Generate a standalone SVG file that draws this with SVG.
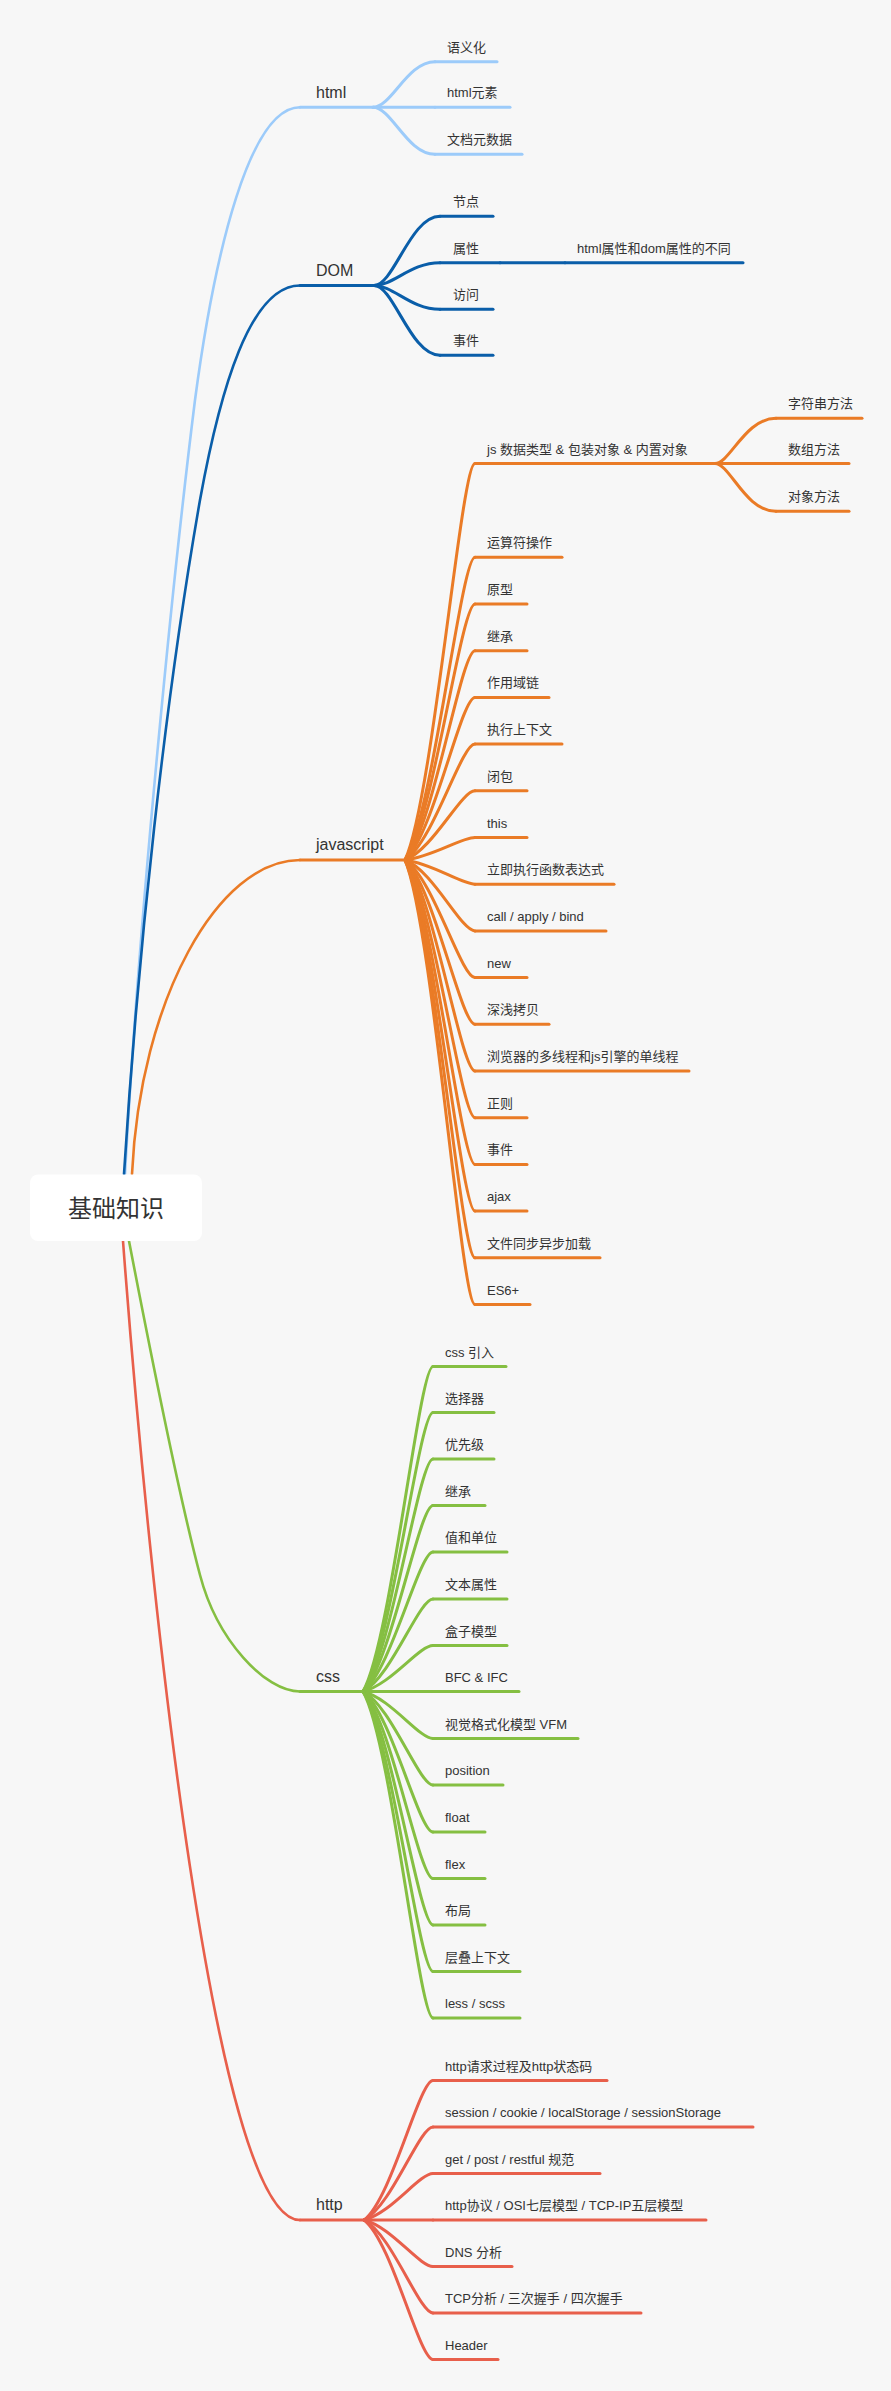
<svg xmlns="http://www.w3.org/2000/svg" width="891" height="2391" viewBox="0 0 891 2391">
<style>
  .bg{fill:#f7f7f7}
  path,line{fill:none;stroke-width:3;stroke-linecap:round}
  .main{stroke-width:2.6}
  .b1{stroke:#9ccbfa}
  .b2{stroke:#0a5ea9}
  .b3{stroke:#ea7b26}
  .b4{stroke:#85bf42}
  .b5{stroke:#e85f4b}
  text{font-family:"Liberation Sans","Noto Sans CJK SC",sans-serif;fill:#333}
  .t1{font-size:16px}
  .t2{font-size:13px}
  .root{font-size:24px;text-anchor:middle}
</style>
<rect class="bg" x="0" y="0" width="891" height="2391"/>

<g id="connectors">
  <!-- root to main branches -->
  <path class="b1 main" d="M125,1174 C140,900 175,560 195,400 C215,250 250,107.3 300,107.3"/>
  <path class="b2 main" d="M124,1174 C138,950 165,700 200,500 C220,390 250,285.5 300,285.5"/>
  <path class="b3 main" d="M132,1174 C140,1000 218,860 300,860"/>
  <path class="b4 main" d="M129,1241 C150,1350 180,1500 200,1575 C217,1640 265,1691.5 300,1691.5"/>
  <path class="b5 main" d="M123,1241 C150,1600 215,2220 300,2220"/>
  <!-- html children -->
  <path class="b1" d="M373,107.3 C391.6,107.3 407.1,61.7 435,61.7"/>
  <path class="b1" d="M373,107.3 L435,107.3"/>
  <path class="b1" d="M373,107.3 C391.6,107.3 407.1,154.3 435,154.3"/>
  <!-- DOM children -->
  <path class="b2" d="M374,285.5 C393.8,285.5 410.3,216.3 440,216.3"/>
  <path class="b2" d="M374,285.5 C393.8,285.5 410.3,262.7 440,262.7"/>
  <path class="b2" d="M374,285.5 C393.8,285.5 410.3,309.3 440,309.3"/>
  <path class="b2" d="M374,285.5 C393.8,285.5 410.3,355.3 440,355.3"/>
  <path class="b2" d="M500,262.7 L565,262.7"/>
  <!-- javascript children -->
  <path class="b3" d="M405,860 C433,800.5 461,463.5 475,463.5"/>
  <path class="b3" d="M405,860 C433,814.6 461,557.3 475,557.3"/>
  <path class="b3" d="M405,860 C433,821.6 461,604 475,604"/>
  <path class="b3" d="M405,860 C433,828.6 461,650.7 475,650.7"/>
  <path class="b3" d="M405,860 C433,835.6 461,697.4 475,697.4"/>
  <path class="b3" d="M405,860 C433,842.6 461,744.1 475,744.1"/>
  <path class="b3" d="M405,860 C433,849.6 461,790.8 475,790.8"/>
  <path class="b3" d="M405,860 C433,856.6 461,837.5 475,837.5"/>
  <path class="b3" d="M405,860 C433,863.6 461,884.2 475,884.2"/>
  <path class="b3" d="M405,860 C433,870.6 461,930.9 475,930.9"/>
  <path class="b3" d="M405,860 C433,877.6 461,977.6 475,977.6"/>
  <path class="b3" d="M405,860 C433,884.6 461,1024.3 475,1024.3"/>
  <path class="b3" d="M405,860 C433,891.7 461,1071 475,1071"/>
  <path class="b3" d="M405,860 C433,898.7 461,1117.7 475,1117.7"/>
  <path class="b3" d="M405,860 C433,905.7 461,1164.4 475,1164.4"/>
  <path class="b3" d="M405,860 C433,912.7 461,1211.1 475,1211.1"/>
  <path class="b3" d="M405,860 C433,919.7 461,1257.8 475,1257.8"/>
  <path class="b3" d="M405,860 C433,926.7 461,1304.5 475,1304.5"/>
  <!-- js data type children -->
  <path class="b3" d="M715,463.5 C730,463.5 745,418.3 776,418.3"/>
  <path class="b3" d="M715,463.5 L776,463.5"/>
  <path class="b3" d="M715,463.5 C730,463.5 745,511.3 776,511.3"/>
  <!-- css children -->
  <path class="b4" d="M363,1691.5 C391,1642.8 419,1366.5 433,1366.5"/>
  <path class="b4" d="M363,1691.5 C391,1649.7 419,1412.5 433,1412.5"/>
  <path class="b4" d="M363,1691.5 C391,1656.6 419,1459 433,1459"/>
  <path class="b4" d="M363,1691.5 C391,1663.6 419,1505.5 433,1505.5"/>
  <path class="b4" d="M363,1691.5 C391,1670.6 419,1552 433,1552"/>
  <path class="b4" d="M363,1691.5 C391,1677.6 419,1599 433,1599"/>
  <path class="b4" d="M363,1691.5 C391,1684.6 419,1645.5 433,1645.5"/>
  <path class="b4" d="M363,1691.5 L433,1691.5"/>
  <path class="b4" d="M363,1691.5 C391,1698.6 419,1738.5 433,1738.5"/>
  <path class="b4" d="M363,1691.5 C391,1705.5 419,1785 433,1785"/>
  <path class="b4" d="M363,1691.5 C391,1712.6 419,1832 433,1832"/>
  <path class="b4" d="M363,1691.5 C391,1719.6 419,1878.5 433,1878.5"/>
  <path class="b4" d="M363,1691.5 C391,1726.5 419,1925 433,1925"/>
  <path class="b4" d="M363,1691.5 C391,1733.5 419,1971.5 433,1971.5"/>
  <path class="b4" d="M363,1691.5 C391,1740.5 419,2018 433,2018"/>
  <!-- http children -->
  <path class="b5" d="M364,2220 C391.6,2199.1 419.2,2080.5 433,2080.5"/>
  <path class="b5" d="M364,2220 C391.6,2206 419.2,2127 433,2127"/>
  <path class="b5" d="M364,2220 C391.6,2213 419.2,2173.5 433,2173.5"/>
  <path class="b5" d="M364,2220 L433,2220"/>
  <path class="b5" d="M364,2220 C391.6,2227 419.2,2266.5 433,2266.5"/>
  <path class="b5" d="M364,2220 C391.6,2234 419.2,2313 433,2313"/>
  <path class="b5" d="M364,2220 C391.6,2240.9 419.2,2359.5 433,2359.5"/>
</g>

<g id="root">
  <rect x="30" y="1174.5" width="172" height="66.5" rx="8" fill="#ffffff"/>
  <text class="root" x="116" y="1216.5">基础知识</text>
</g>

<!-- html -->
<g id="n-html"><line class="b1" x1="300" y1="107.3" x2="373" y2="107.3"/><text class="t1" x="316" y="97.5">html</text></g>
<g id="n-html-1"><line class="b1" x1="435" y1="61.7" x2="497" y2="61.7"/><text class="t2" x="447" y="51.7">语义化</text></g>
<g id="n-html-2"><line class="b1" x1="435" y1="107.3" x2="510" y2="107.3"/><text class="t2" x="447" y="97.3">html元素</text></g>
<g id="n-html-3"><line class="b1" x1="435" y1="154.3" x2="522" y2="154.3"/><text class="t2" x="447" y="144.3">文档元数据</text></g>

<!-- DOM -->
<g id="n-dom"><line class="b2" x1="300" y1="285.5" x2="374" y2="285.5"/><text class="t1" x="316" y="275.5">DOM</text></g>
<g id="n-dom-1"><line class="b2" x1="440" y1="216.3" x2="493" y2="216.3"/><text class="t2" x="453" y="206.3">节点</text></g>
<g id="n-dom-2"><line class="b2" x1="440" y1="262.7" x2="500" y2="262.7"/><text class="t2" x="453" y="252.7">属性</text></g>
<g id="n-dom-2-1"><line class="b2" x1="565" y1="262.7" x2="743" y2="262.7"/><text class="t2" x="577" y="252.7">html属性和dom属性的不同</text></g>
<g id="n-dom-3"><line class="b2" x1="440" y1="309.3" x2="493" y2="309.3"/><text class="t2" x="453" y="299.3">访问</text></g>
<g id="n-dom-4"><line class="b2" x1="440" y1="355.3" x2="493" y2="355.3"/><text class="t2" x="453" y="345.3">事件</text></g>

<!-- javascript -->
<g id="n-js"><line class="b3" x1="300" y1="860" x2="405" y2="860"/><text class="t1" x="316" y="850">javascript</text></g>
<g id="n-js-1"><line class="b3" x1="475" y1="463.5" x2="715" y2="463.5"/><text class="t2" x="487" y="453.5">js 数据类型 &amp; 包装对象 &amp; 内置对象</text></g>
<g id="n-js-1-1"><line class="b3" x1="776" y1="418.3" x2="862" y2="418.3"/><text class="t2" x="788" y="408.3">字符串方法</text></g>
<g id="n-js-1-2"><line class="b3" x1="776" y1="463.5" x2="849" y2="463.5"/><text class="t2" x="788" y="453.5">数组方法</text></g>
<g id="n-js-1-3"><line class="b3" x1="776" y1="511.3" x2="849" y2="511.3"/><text class="t2" x="788" y="501.3">对象方法</text></g>
<g id="n-js-2"><line class="b3" x1="475" y1="557.3" x2="562" y2="557.3"/><text class="t2" x="487" y="547.3">运算符操作</text></g>
<g id="n-js-3"><line class="b3" x1="475" y1="604" x2="527" y2="604"/><text class="t2" x="487" y="594">原型</text></g>
<g id="n-js-4"><line class="b3" x1="475" y1="650.7" x2="527" y2="650.7"/><text class="t2" x="487" y="640.7">继承</text></g>
<g id="n-js-5"><line class="b3" x1="475" y1="697.4" x2="549" y2="697.4"/><text class="t2" x="487" y="687.4">作用域链</text></g>
<g id="n-js-6"><line class="b3" x1="475" y1="744.1" x2="562" y2="744.1"/><text class="t2" x="487" y="734.1">执行上下文</text></g>
<g id="n-js-7"><line class="b3" x1="475" y1="790.8" x2="527" y2="790.8"/><text class="t2" x="487" y="780.8">闭包</text></g>
<g id="n-js-8"><line class="b3" x1="475" y1="837.5" x2="527" y2="837.5"/><text class="t2" x="487" y="827.5">this</text></g>
<g id="n-js-9"><line class="b3" x1="475" y1="884.2" x2="614" y2="884.2"/><text class="t2" x="487" y="874.2">立即执行函数表达式</text></g>
<g id="n-js-10"><line class="b3" x1="475" y1="930.9" x2="606" y2="930.9"/><text class="t2" x="487" y="920.9">call / apply / bind</text></g>
<g id="n-js-11"><line class="b3" x1="475" y1="977.6" x2="527" y2="977.6"/><text class="t2" x="487" y="967.6">new</text></g>
<g id="n-js-12"><line class="b3" x1="475" y1="1024.3" x2="549" y2="1024.3"/><text class="t2" x="487" y="1014.3">深浅拷贝</text></g>
<g id="n-js-13"><line class="b3" x1="475" y1="1071" x2="689" y2="1071"/><text class="t2" x="487" y="1061">浏览器的多线程和js引擎的单线程</text></g>
<g id="n-js-14"><line class="b3" x1="475" y1="1117.7" x2="527" y2="1117.7"/><text class="t2" x="487" y="1107.7">正则</text></g>
<g id="n-js-15"><line class="b3" x1="475" y1="1164.4" x2="527" y2="1164.4"/><text class="t2" x="487" y="1154.4">事件</text></g>
<g id="n-js-16"><line class="b3" x1="475" y1="1211.1" x2="527" y2="1211.1"/><text class="t2" x="487" y="1201.1">ajax</text></g>
<g id="n-js-17"><line class="b3" x1="475" y1="1257.8" x2="600" y2="1257.8"/><text class="t2" x="487" y="1247.8">文件同步异步加载</text></g>
<g id="n-js-18"><line class="b3" x1="475" y1="1304.5" x2="530" y2="1304.5"/><text class="t2" x="487" y="1294.5">ES6+</text></g>

<!-- css -->
<g id="n-css"><line class="b4" x1="300" y1="1691.5" x2="363" y2="1691.5"/><text class="t1" x="316" y="1681.5">css</text></g>
<g id="n-css-1"><line class="b4" x1="433" y1="1366.5" x2="506" y2="1366.5"/><text class="t2" x="445" y="1356.5">css 引入</text></g>
<g id="n-css-2"><line class="b4" x1="433" y1="1412.5" x2="494" y2="1412.5"/><text class="t2" x="445" y="1402.5">选择器</text></g>
<g id="n-css-3"><line class="b4" x1="433" y1="1459" x2="494" y2="1459"/><text class="t2" x="445" y="1449">优先级</text></g>
<g id="n-css-4"><line class="b4" x1="433" y1="1505.5" x2="485" y2="1505.5"/><text class="t2" x="445" y="1495.5">继承</text></g>
<g id="n-css-5"><line class="b4" x1="433" y1="1552" x2="507" y2="1552"/><text class="t2" x="445" y="1542">值和单位</text></g>
<g id="n-css-6"><line class="b4" x1="433" y1="1599" x2="507" y2="1599"/><text class="t2" x="445" y="1589">文本属性</text></g>
<g id="n-css-7"><line class="b4" x1="433" y1="1645.5" x2="507" y2="1645.5"/><text class="t2" x="445" y="1635.5">盒子模型</text></g>
<g id="n-css-8"><line class="b4" x1="433" y1="1691.5" x2="519" y2="1691.5"/><text class="t2" x="445" y="1681.5">BFC &amp; IFC</text></g>
<g id="n-css-9"><line class="b4" x1="433" y1="1738.5" x2="578" y2="1738.5"/><text class="t2" x="445" y="1728.5">视觉格式化模型 VFM</text></g>
<g id="n-css-10"><line class="b4" x1="433" y1="1785" x2="503" y2="1785"/><text class="t2" x="445" y="1775">position</text></g>
<g id="n-css-11"><line class="b4" x1="433" y1="1832" x2="485" y2="1832"/><text class="t2" x="445" y="1822">float</text></g>
<g id="n-css-12"><line class="b4" x1="433" y1="1878.5" x2="485" y2="1878.5"/><text class="t2" x="445" y="1868.5">flex</text></g>
<g id="n-css-13"><line class="b4" x1="433" y1="1925" x2="485" y2="1925"/><text class="t2" x="445" y="1915">布局</text></g>
<g id="n-css-14"><line class="b4" x1="433" y1="1971.5" x2="520" y2="1971.5"/><text class="t2" x="445" y="1961.5">层叠上下文</text></g>
<g id="n-css-15"><line class="b4" x1="433" y1="2018" x2="520" y2="2018"/><text class="t2" x="445" y="2008">less / scss</text></g>

<!-- http -->
<g id="n-http"><line class="b5" x1="300" y1="2220" x2="364" y2="2220"/><text class="t1" x="316" y="2210">http</text></g>
<g id="n-http-1"><line class="b5" x1="433" y1="2080.5" x2="607" y2="2080.5"/><text class="t2" x="445" y="2070.5">http请求过程及http状态码</text></g>
<g id="n-http-2"><line class="b5" x1="433" y1="2127" x2="753" y2="2127"/><text class="t2" x="445" y="2117">session / cookie / localStorage / sessionStorage</text></g>
<g id="n-http-3"><line class="b5" x1="433" y1="2173.5" x2="600" y2="2173.5"/><text class="t2" x="445" y="2163.5">get / post / restful 规范</text></g>
<g id="n-http-4"><line class="b5" x1="433" y1="2220" x2="706" y2="2220"/><text class="t2" x="445" y="2210">http协议 / OSI七层模型 / TCP-IP五层模型</text></g>
<g id="n-http-5"><line class="b5" x1="433" y1="2266.5" x2="512" y2="2266.5"/><text class="t2" x="445" y="2256.5">DNS 分析</text></g>
<g id="n-http-6"><line class="b5" x1="433" y1="2313" x2="641" y2="2313"/><text class="t2" x="445" y="2303">TCP分析 / 三次握手 / 四次握手</text></g>
<g id="n-http-7"><line class="b5" x1="433" y1="2359.5" x2="498" y2="2359.5"/><text class="t2" x="445" y="2349.5">Header</text></g>
</svg>
